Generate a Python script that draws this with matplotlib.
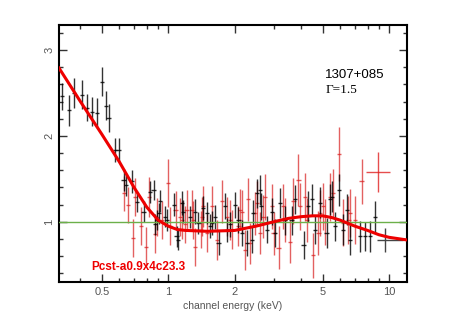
import numpy as np
import matplotlib.pyplot as plt
from matplotlib.ticker import FixedLocator, NullFormatter, MultipleLocator

# black data set (energy keV, ratio, y error)
e_blk = [0.330, 0.354, 0.373, 0.407, 0.43, 0.45, 0.476, 0.50, 0.524, 0.537,
         0.576, 0.596, 0.628, 0.646, 0.685, 0.722, 0.773, 0.829, 0.858, 0.873,
         0.889, 0.91, 0.92, 0.97, 0.99, 1.06, 1.09, 1.11, 1.15, 1.17,
         1.26, 1.32, 1.37, 1.44, 1.50, 1.55, 1.58, 1.63, 1.69, 1.81,
         1.84, 1.91, 2.01, 2.08, 2.15, 2.27, 2.39, 2.43, 2.52, 2.61,
         2.64, 2.80, 2.94, 3.05, 3.21, 3.38, 3.62, 3.75, 4.10, 4.31,
         4.47, 4.63, 4.87, 5.21, 5.40, 5.50, 5.70, 5.95, 6.2, 6.43,
         6.64, 7.39, 7.8, 8.2, 8.63]
r_blk = [2.46, 2.30, 2.50, 2.48, 2.33, 2.28, 2.27, 2.63, 2.35, 2.21,
         1.84, 1.84, 1.49, 1.43, 1.47, 1.23, 1.12, 1.35, 1.37, 0.97,
         1.02, 1.10, 1.24, 1.06, 1.02, 1.20, 0.83, 0.79, 1.22, 1.12,
         1.06, 1.12, 0.99, 1.16, 1.10, 0.95, 0.99, 1.06, 0.75, 1.18,
         0.91, 0.97, 1.20, 1.02, 0.87, 0.75, 0.79, 1.10, 1.33, 1.37,
         1.18, 0.91, 1.12, 0.87, 1.22, 1.02, 1.02, 1.26, 0.73, 1.18,
         1.26, 0.91, 1.22, 0.87, 1.26, 1.29, 0.95, 1.37, 0.91, 1.14,
         0.79, 0.83, 0.83, 0.83, 1.06]
err_blk = [0.16, 0.18, 0.17, 0.17, 0.16, 0.17, 0.17, 0.17, 0.17, 0.16,
           0.14, 0.14, 0.13, 0.13, 0.13, 0.12, 0.12, 0.13, 0.12, 0.12,
           0.12, 0.12, 0.13, 0.12, 0.13, 0.13, 0.12, 0.12, 0.14, 0.13,
           0.13, 0.14, 0.13, 0.14, 0.13, 0.14, 0.14, 0.14, 0.14, 0.15,
           0.14, 0.15, 0.15, 0.15, 0.15, 0.15, 0.15, 0.15, 0.17, 0.17,
           0.16, 0.16, 0.16, 0.16, 0.17, 0.17, 0.17, 0.17, 0.16, 0.18,
           0.18, 0.17, 0.18, 0.17, 0.18, 0.18, 0.17, 0.19, 0.18, 0.18,
           0.17, 0.18, 0.17, 0.18, 0.18]

# red data set
e_red = [0.63, 0.66, 0.69, 0.71, 0.75, 0.79, 0.82, 0.87, 0.89, 0.94,
         1.00, 1.02, 1.08, 1.13, 1.15, 1.19, 1.21, 1.28, 1.30, 1.32,
         1.40, 1.42, 1.44, 1.50, 1.58, 1.66, 1.75, 1.84, 1.91, 1.94,
         2.08, 2.12, 2.15, 2.23, 2.30, 2.35, 2.47, 2.52, 2.61, 2.70,
         2.75, 2.94, 3.00, 3.16, 3.32, 3.38, 3.56, 3.69, 3.89, 3.95,
         4.17, 4.24, 4.54, 4.79, 4.85, 5.04, 5.13, 5.40, 5.56, 5.95,
         6.20, 6.55, 6.64, 7.00, 7.51]
r_red = [1.33, 1.20, 0.81, 1.29, 0.95, 0.71, 1.29, 0.86, 1.06, 1.02,
         1.45, 0.95, 1.14, 1.06, 1.02, 0.97, 1.14, 1.14, 1.02, 0.71,
         0.91, 1.06, 1.18, 0.87, 1.18, 0.79, 1.24, 1.06, 1.02, 0.91,
         0.95, 1.14, 1.12, 0.67, 1.26, 0.75, 1.10, 1.22, 0.87, 1.06,
         1.29, 1.18, 0.87, 0.70, 1.18, 1.02, 0.77, 1.24, 1.49, 1.18,
         1.29, 1.02, 0.61, 0.87, 1.10, 1.18, 1.00, 1.29, 1.33, 1.79,
         0.99, 1.02, 1.10, 1.02, 1.47]
err_red = [0.20, 0.21, 0.22, 0.22, 0.22, 0.23, 0.23, 0.22, 0.22, 0.22,
           0.28, 0.22, 0.22, 0.22, 0.22, 0.22, 0.23, 0.23, 0.22, 0.22,
           0.22, 0.23, 0.24, 0.22, 0.24, 0.23, 0.25, 0.23, 0.23, 0.23,
           0.23, 0.24, 0.25, 0.23, 0.25, 0.24, 0.25, 0.26, 0.24, 0.25,
           0.27, 0.26, 0.25, 0.25, 0.26, 0.26, 0.25, 0.27, 0.30, 0.27,
           0.28, 0.26, 0.26, 0.26, 0.27, 0.27, 0.27, 0.28, 0.28, 0.31,
           0.27, 0.28, 0.28, 0.28, 0.26]

# wide high-energy bins
e_wide_red, r_wide_red, lo_wide_red, hi_wide_red, err_wide_red = 8.96, 1.58, 7.85, 10.1, 0.23
e_wide_blk, r_wide_blk, lo_wide_blk, hi_wide_blk, err_wide_blk = 9.6, 0.79, 8.8, 11.6, 0.14

# model ratio curve
e_mod = [0.32, 0.40, 0.50, 0.60, 0.70, 0.80, 0.90, 1.0, 1.1, 1.2,
         1.5, 2.0, 2.5, 3.0, 3.5, 4.0, 4.5, 5.0, 5.5, 6.0,
         7.0, 8.0, 9.0, 10.0, 12.0]
r_mod = [2.79, 2.40, 2.02, 1.70, 1.40, 1.17, 1.02, 0.95, 0.91, 0.90,
         0.89, 0.90, 0.95, 1.00, 1.04, 1.06, 1.07, 1.07, 1.05, 1.02,
         0.95, 0.90, 0.85, 0.82, 0.79]

binfrac = 0.022

fig = plt.figure(figsize=(4.63, 3.27), dpi=100)
ax = fig.add_axes([0.1274, 0.1376, 0.7516, 0.7859])
ax.set_xscale('log')

e_blk = np.array(e_blk)
e_red = np.array(e_red)
ax.errorbar(e_red, r_red, yerr=err_red, xerr=e_red * binfrac, fmt='none',
            ecolor='#d81e1e', elinewidth=1.0, alpha=0.7, zorder=2)
ax.errorbar(e_blk, r_blk, yerr=err_blk, xerr=e_blk * binfrac, fmt='none',
            ecolor='black', elinewidth=1.0, alpha=0.8, zorder=3)
ax.errorbar([e_wide_red], [r_wide_red], yerr=err_wide_red,
            xerr=[[e_wide_red - lo_wide_red], [hi_wide_red - e_wide_red]],
            fmt='none', ecolor='#e02020', elinewidth=1.0, alpha=0.8, zorder=2)
ax.errorbar([e_wide_blk], [r_wide_blk], yerr=err_wide_blk,
            xerr=[[e_wide_blk - lo_wide_blk], [hi_wide_blk - e_wide_blk]],
            fmt='none', ecolor='#444444', elinewidth=1.0, zorder=3)

ax.axhline(1.0, color='#6cb04a', lw=1.0, zorder=4)
ax.plot(e_mod, r_mod, color='#ee0000', lw=2.2, zorder=5)

ax.set_xlim(0.32, 12.06)
ax.set_ylim(0.30, 3.29)

ax.xaxis.set_major_locator(FixedLocator([0.5, 1, 2, 5, 10]))
ax.set_xticklabels(['0.5', '1', '2', '5', '10'])
ax.xaxis.set_minor_locator(FixedLocator([0.4, 0.6, 0.7, 0.8, 0.9, 3, 4, 6, 7, 8, 9]))
ax.xaxis.set_minor_formatter(NullFormatter())
ax.yaxis.set_major_locator(FixedLocator([1, 2, 3]))
ax.yaxis.set_minor_locator(MultipleLocator(0.2))

ax.tick_params(which='both', direction='in', top=True, right=True,
               colors='#333333', labelsize=8, width=1.0)
ax.tick_params(which='major', length=6)
ax.tick_params(which='minor', length=3)
for lab in ax.get_yticklabels():
    lab.set_rotation(90)
    lab.set_va('center')
for lab in ax.get_xticklabels() + ax.get_yticklabels():
    lab.set_family('Liberation Sans')
    lab.set_color('#555555')
for sp in ax.spines.values():
    sp.set_linewidth(1.5)

ax.set_xlabel('channel energy (keV)', family='Liberation Sans', fontsize=7.5,
              color='#555555', labelpad=3)

ax.text(0.765, 0.792, '1307+085', transform=ax.transAxes, family='Liberation Sans',
        fontsize=9.5, color='black')
ax.text(0.765, 0.737, 'Γ=1.5', transform=ax.transAxes, family='Liberation Serif',
        fontsize=9.5, color='black')
ax.text(0.092, 0.045, 'Pcst-a0.9x4c23.3', transform=ax.transAxes,
        family='Liberation Sans', fontweight='bold', fontsize=8.5, color='#ee0000')

fig.savefig('out.png', dpi=100)
